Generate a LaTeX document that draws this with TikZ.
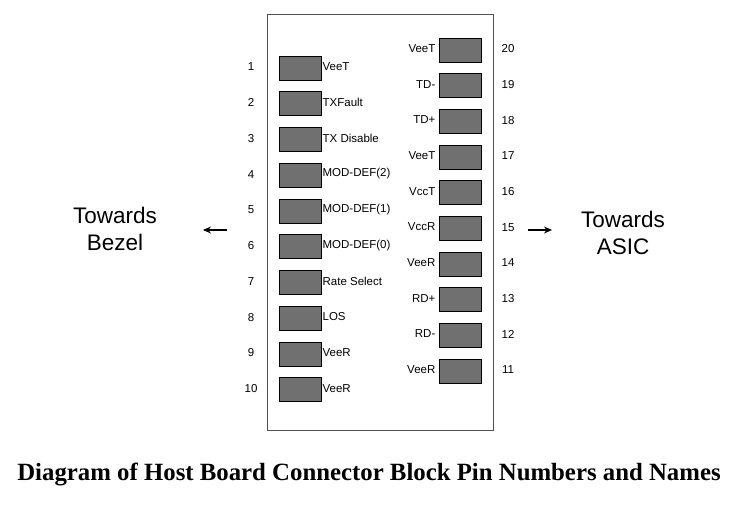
\documentclass[tikz,border=0pt]{standalone}
\usepackage{fontspec}
\setmainfont{Liberation Serif}
\setsansfont{Liberation Sans}
\usetikzlibrary{arrows.meta}
\definecolor{pinfill}{HTML}{707070}
\definecolor{edgegray}{HTML}{505050}

\begin{document}
\begin{tikzpicture}[x=1pt,y=-1pt]
    \tikzstyle{pin}=[rectangle,draw,fill=pinfill,line width=0.9pt,inner sep=0pt,minimum width=42pt,minimum height=24pt]
    \tikzstyle{lbl}=[font=\sffamily\fontsize{11.5}{13}\selectfont,inner sep=1pt]
    \tikzstyle{side}=[font=\sffamily\fontsize{22.5}{27}\selectfont,align=center]
    \useasboundingbox (0,0) rectangle (736,510);
    \node[draw=edgegray,line width=0.9pt,inner sep=0pt,minimum width=226pt,minimum height=416pt] at (380,222) (block) {};
    % left row, pins 1..10
    \foreach \i/\name in {1/VeeT,2/TXFault,3/TX Disable,4/MOD-DEF(2),5/MOD-DEF(1),
                          6/MOD-DEF(0),7/Rate Select,8/LOS,9/VeeR,10/VeeR} {
      \node[pin] at (300,{68+35.75*(\i-1)}) (l\i) {};
      \node[lbl,anchor=west,yshift=1.5pt] at (l\i.east) (ln\i) {\name};
      \node[lbl,yshift=1pt] at (251,{68+35.75*(\i-1)}) (lnum\i) {\i};
    }
    % right row, pins 11..20
    \foreach \i/\name in {20/VeeT,19/TD-,18/TD+,17/VeeT,16/VccT,
                          15/VccR,14/VeeR,13/RD+,12/RD-,11/VeeR} {
      \node[pin] at (460,{50+35.67*(20-\i)}) (r\i) {};
      \node[lbl,anchor=east,yshift=1.5pt,xshift=-2pt] at (r\i.west) (rn\i) {\name};
      \node[lbl,yshift=1pt] at (508,{50+35.67*(20-\i)}) (rnum\i) {\i};
    }
    \node[side] at (115,229) (bezel) {Towards\\Bezel};
    \node[side] at (623,233) (asic) {Towards\\ASIC};
    \coordinate (bz1) at (227,230);
    \coordinate (bz2) at (203,230);
    \coordinate (as1) at (528,230);
    \coordinate (as2) at (552,230);
    \draw[-{Stealth[length=8pt,width=7pt]},line width=1.3pt] (bz1) -- (bz2);
    \draw[-{Stealth[length=8pt,width=7pt]},line width=1.3pt] (as1) -- (as2);
    \node[font=\bfseries\fontsize{24.8}{29}\selectfont] at (369,475) (caption)
      {Diagram of Host Board Connector Block Pin Numbers and Names};
\end{tikzpicture}
\end{document}
